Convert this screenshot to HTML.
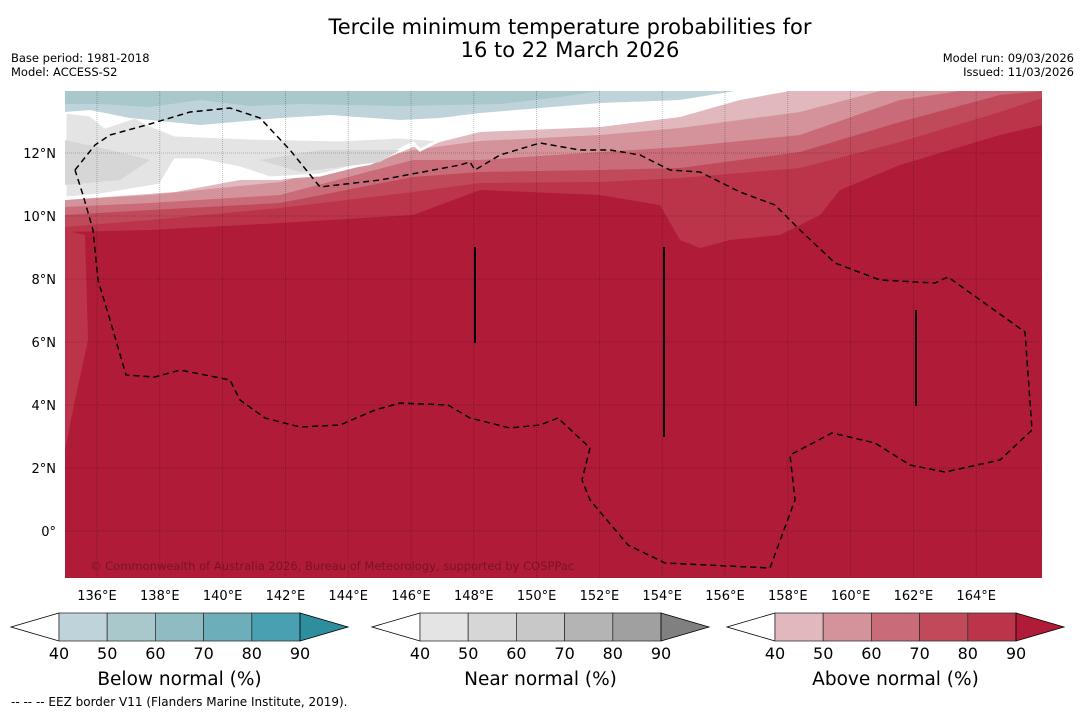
<!DOCTYPE html>
<html><head><meta charset="utf-8"><style>
body{margin:0;background:#fff;width:1085px;height:713px;overflow:hidden;font-family:"DejaVu Sans","Liberation Sans",sans-serif}
svg{display:block;font-family:"DejaVu Sans","Liberation Sans",sans-serif}
</style></head><body>
<svg id="s" width="1085" height="713" xmlns="http://www.w3.org/2000/svg">
<text x="570" y="34" font-size="21" text-anchor="middle">Tercile minimum temperature probabilities for</text>
<text x="570" y="57" font-size="21" text-anchor="middle">16 to 22 March 2026</text>
<text x="11" y="62" font-size="11.5">Base period: 1981-2018</text>
<text x="11" y="76" font-size="11.5">Model: ACCESS-S2</text>
<text x="1074" y="62" font-size="11.5" text-anchor="end">Model run: 09/03/2026</text>
<text x="1074" y="76" font-size="11.5" text-anchor="end">Issued: 11/03/2026</text>
<defs><clipPath id="mc"><rect x="65" y="91" width="977" height="487"/></clipPath></defs>
<g id="map" clip-path="url(#mc)"></g>
<text x="90" y="570" font-size="11.5" fill="#6a1020" fill-opacity="0.8">© Commonwealth of Australia 2026, Bureau of Meteorology, supported by COSPPac</text>
<g id="axes"></g>
<g id="cbars"></g>
<text x="11" y="706" font-size="12">--  --  -- EEZ border V11 (Flanders Marine Institute, 2019).</text>
</svg>
<script>
const lonTicks=[136,138,140,142,144,146,148,150,152,154,156,158,160,162,164];
const latTicks=[0,2,4,6,8,10,12];
const cbTicks=[40,50,60,70,80,90];
const cbTitles=["Below normal (%)","Near normal (%)","Above normal (%)"];
const blueColors=["#bfd3da","#a8c8cc","#8ebcc2","#6daebb","#48a0b0","#2e8e9e"];
const grayColors=["#e4e4e4","#d6d6d6","#c8c8c8","#b4b4b4","#a0a0a0","#808080"];
const redColors=["#e0b8bd","#d4939a","#c96b78","#c04a5a","#bb3449","#b01c38"];
const NS="http://www.w3.org/2000/svg";
const X=lon=>65.6+(lon-135)*31.4;
const Y=lat=>531-lat*31.5;
function el(t,a,p){const e=document.createElementNS(NS,t);for(const k in a)e.setAttribute(k,a[k]);p.appendChild(e);return e;}
const map=document.getElementById('map');
const b80=[[65,232],[150,230],[280,223],[413,215],[480,190],[600,195],[660,205],[680,240],[700,248],[730,240],[780,235],[820,215],[840,190],[900,165],[1000,135],[1042,125]];
const b70=[[65,227],[150,220],[280,208],[413,192],[480,183],[600,182],[680,178],[800,168],[900,142],[1000,112],[1042,98]];
const b60=[[65,215],[150,210],[280,203],[413,177],[480,172],[600,170],[680,168],[800,152],[900,122],[1000,95],[1042,91]];
const b50=[[65,207],[150,203],[280,195],[413,160],[480,160],[600,152],[680,147],[800,135],[900,100],[960,91],[1042,91]];
const b40=[[65,200],[150,195],[280,182],[413,150],[480,141],[600,135],[680,128],[800,112],[880,91],[1042,91]];
function above(pts,fill,name){let d='M65,91 ';pts.forEach(p=>d+='L'+p[0]+','+p[1]+' ');d+='L1042,91 Z';const e=el('path',{d:d,fill:fill},map);}
const bg=el('rect',{x:65,y:91,width:977,height:487,fill:redColors[5]},map);

const ls=el('path',{d:'M65,230 L85,235 L88,340 L75,400 L65,450 Z',fill:redColors[4]},map);

above(b80,redColors[4],'above-80');
above(b70,redColors[3],'above-70');
above(b60,redColors[2],'above-60');
above(b50,redColors[1],'above-50');
above(b40,redColors[0],'above-40');
const w=el('path',{d:'M65,91 L65,200 L175,192 L240,180 L280,180 L370,165 L413,147 L440,142 L480,132 L600,127 L680,117 L740,100 L790,91 Z',fill:'#fff'},map);

const g=el('path',{d:'M65,112 L90,115 L105,127 L120,122 L135,117 L150,125 L175,135 L250,138 L340,140 L400,137 L440,140 L420,150 L413,143 L380,160 L320,175 L270,178 L240,168 L200,160 L175,160 L160,185 L100,195 L65,198 Z',fill:grayColors[0],stroke:'#fff','stroke-width':3},map);

const g2=el('path',{d:'M65,140 L110,150 L150,160 L120,180 L65,185 Z M260,160 L320,150 L400,150 L380,162 L300,172 Z',fill:grayColors[1]},map);

const lb=el('path',{d:'M65,91 L65,112 L90,110 L130,118 L200,125 L280,118 L330,115 L400,120 L440,118 L480,113 L540,108 L600,103 L680,100 L735,91 Z',fill:blueColors[0]},map);

const db=el('path',{d:'M65,91 L65,104 L100,104 L150,107 L200,100 L250,106 L300,104 L400,106 L500,104 L560,97 L600,91 Z',fill:blueColors[1]},map);

lonTicks.forEach(l=>{const e=el('line',{x1:X(l),x2:X(l),y1:91,y2:578,stroke:'#000','stroke-opacity':0.3,'stroke-width':0.8,'stroke-dasharray':'1,1'},map);});
latTicks.forEach(l=>{const e=el('line',{x1:65,x2:1042,y1:Y(l),y2:Y(l),stroke:'#000','stroke-opacity':0.3,'stroke-width':0.8,'stroke-dasharray':'1,1'},map);});
const eez=[[75,170],[95,145],[110,135],[150,124],[190,112],[230,108],[260,118],[290,150],[320,187],[380,180],[460,165],[470,162],[475,170],[500,155],[540,143],[580,150],[610,150],[640,155],[670,170],[700,172],[740,192],[775,205],[800,230],[835,263],[880,280],[935,283],[948,277],[1025,332],[1032,430],[1000,460],[945,472],[910,465],[875,443],[832,433],[790,455],[795,500],[770,568],[665,563],[628,545],[590,500],[582,480],[590,448],[558,418],[540,425],[510,428],[470,418],[448,405],[400,403],[375,410],[340,425],[300,427],[265,418],[240,400],[230,380],[180,370],[155,377],[126,375],[110,320],[98,280],[93,230],[83,195],[75,170]];
const ez=el('polyline',{points:eez.map(p=>p.join(',')).join(' '),fill:'none',stroke:'#000','stroke-width':1.5,'stroke-dasharray':'6,4'},map);

[[475,247,343],[664,247,437],[916,310,406]].forEach(v=>{const e=el('line',{x1:v[0],x2:v[0],y1:v[1],y2:v[2],stroke:'#000','stroke-width':2},map);});
const ax=document.getElementById('axes');
lonTicks.forEach(l=>{const t=el('text',{x:X(l),y:600,'font-size':13,'text-anchor':'middle'},ax);t.textContent=l+'°E';});
latTicks.forEach(l=>{const t=el('text',{x:56,y:Y(l)+5,'font-size':13,'text-anchor':'end'},ax);t.textContent=l===0?'0°':l+'°N';});
const cb=document.getElementById('cbars');
const starts=[59,420,775],sets=[blueColors,grayColors,redColors],names=['below','near','above'];
starts.forEach((x0,i)=>{const bw=48.2,y0=613,h=28,c=sets[i];
 const lt=el('polygon',{points:`${x0},${y0} ${x0-48},${y0+h/2} ${x0},${y0+h}`,fill:'#fff',stroke:'#000','stroke-width':0.8},cb);
 for(let k=0;k<5;k++){const r=el('rect',{x:x0+k*bw,y:y0,width:bw,height:h,fill:c[k],stroke:'#333','stroke-width':0.8},cb);}
 const xe=x0+5*bw;const rt=el('polygon',{points:`${xe},${y0} ${xe+48},${y0+h/2} ${xe},${y0+h}`,fill:c[5],stroke:'#000','stroke-width':0.8},cb);
 cbTicks.forEach((v,k)=>{const t=el('text',{x:x0+k*bw,y:659,'font-size':16,'text-anchor':'middle'},cb);t.textContent=v;});
 const tt=el('text',{x:x0+2.5*bw,y:685,'font-size':18.5,'text-anchor':'middle'},cb);tt.textContent=cbTitles[i];
});
</script>
</body></html>
